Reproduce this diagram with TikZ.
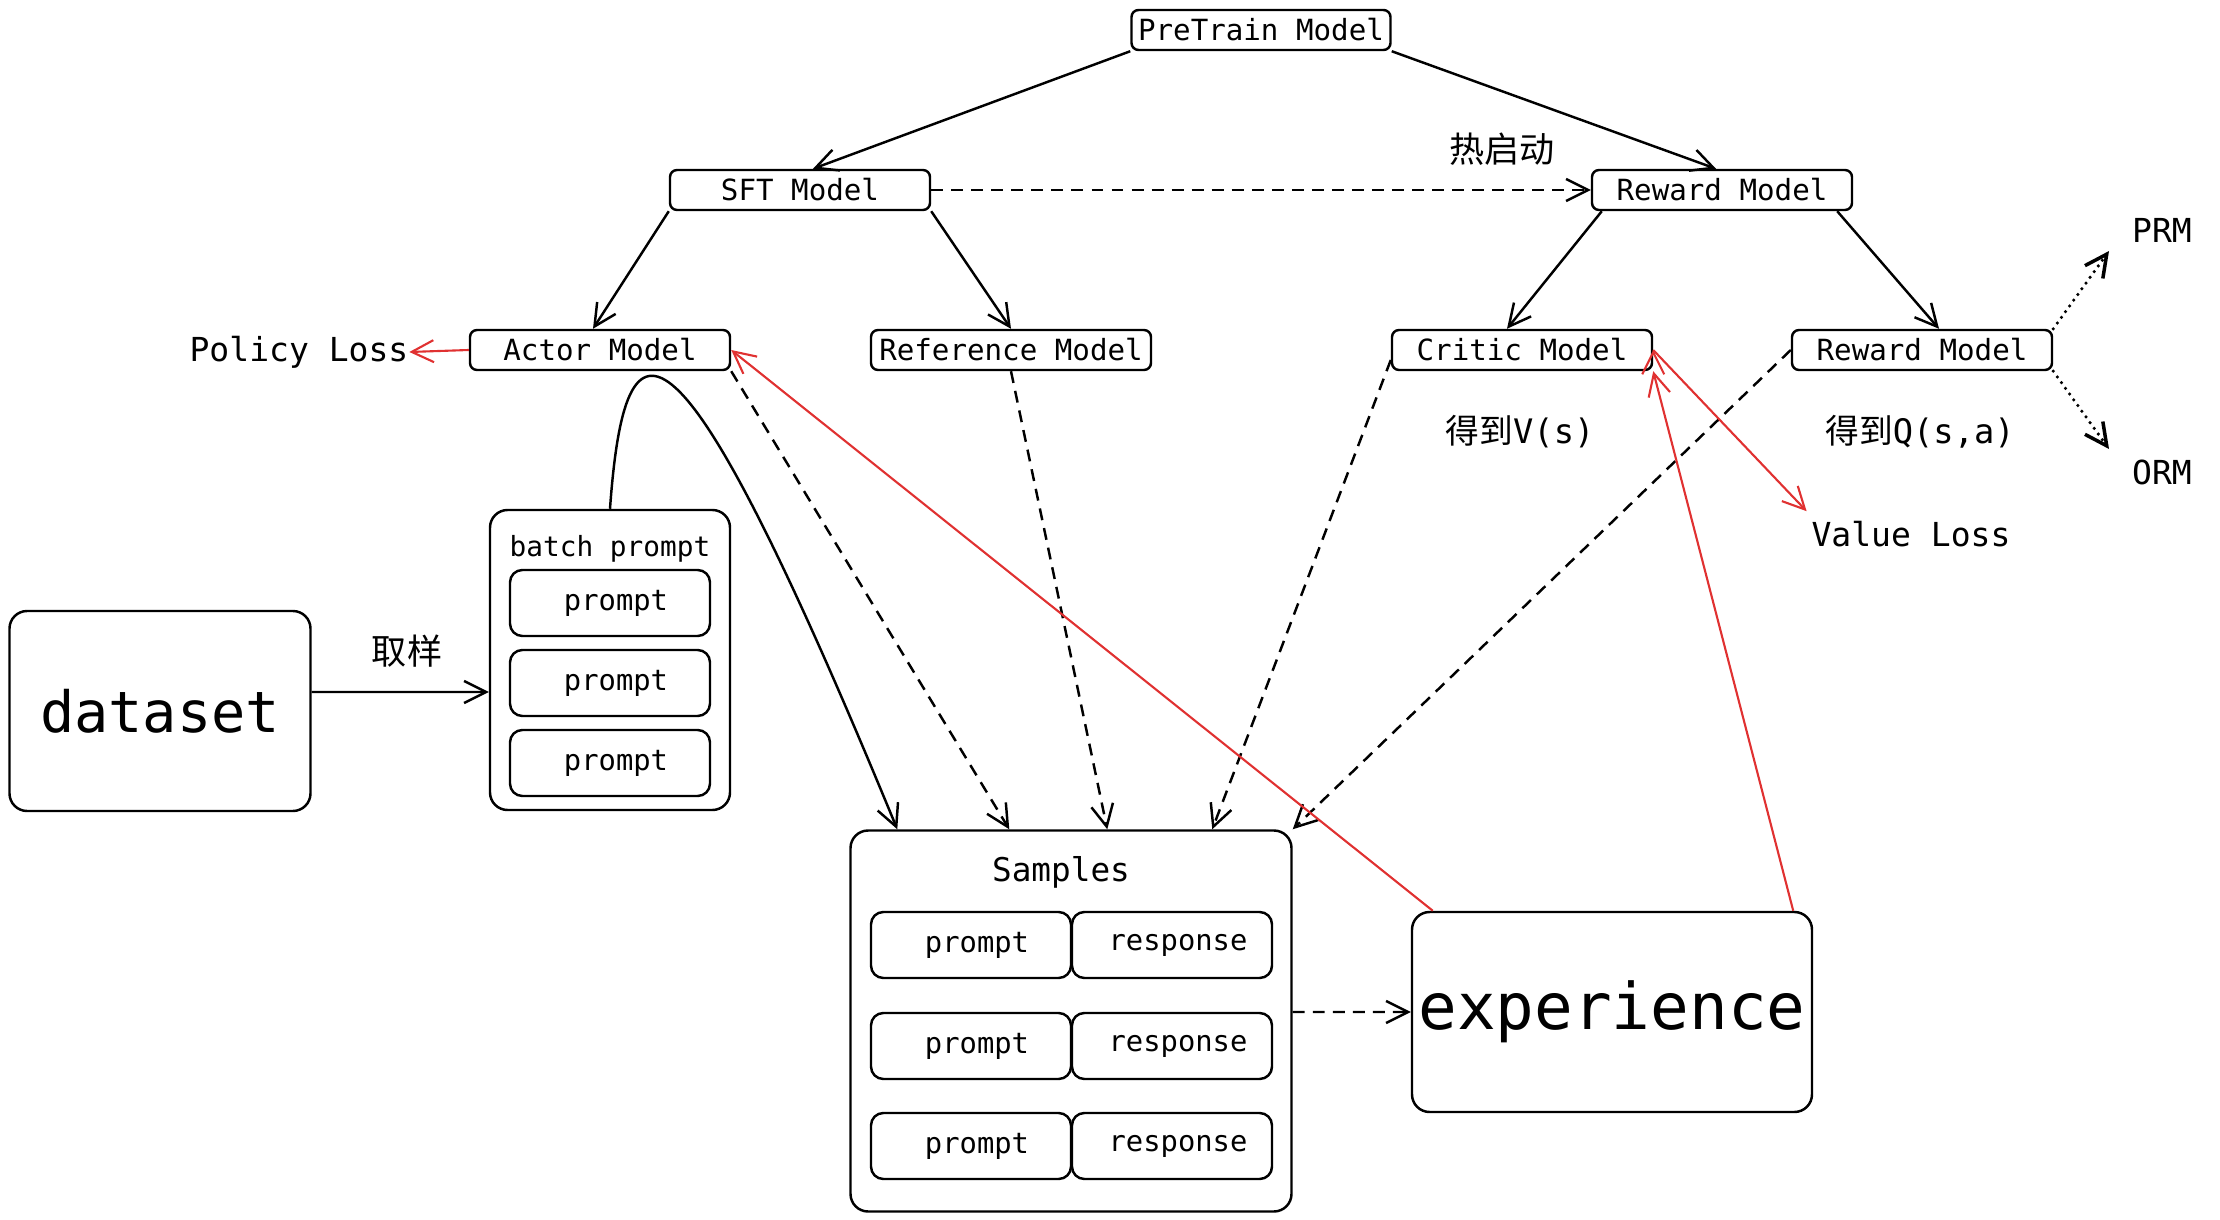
\documentclass[tikz,border=0pt]{standalone}
\usepackage{fontspec}
\setmainfont{DejaVu Sans Mono}
\newfontfamily\cjk{Noto Sans CJK SC}
\usepackage{xcolor}
\usetikzlibrary{arrows.meta}
\definecolor{lossred}{RGB}{224,49,49}
\tikzset{model/.style={draw,rounded corners=2pt,minimum width=26mm,minimum height=4mm,inner sep=0pt,font=\fontsize{8.3}{10}\selectfont}}
\tikzset{bigbox/.style={draw,rounded corners=5pt,inner sep=0pt}}
\tikzset{item/.style={draw,rounded corners=3.5pt,minimum width=20mm,minimum height=6.6mm,inner sep=0pt,font=\fontsize{8.2}{10}\selectfont,execute at begin node=\hspace*{1.2mm}}}
\tikzset{lbl/.style={font=\fontsize{9.4}{11}\selectfont}}
\tikzset{zh/.style={font=\fontsize{10}{12}\selectfont\cjk}}
\tikzset{dsh/.style={dash pattern=on 3.4pt off 2.3pt}}
\tikzset{dots/.style={line cap=round,line width=1pt,dash pattern=on 0pt off 2pt}}

\begin{document}
\begin{tikzpicture}[x=0.1mm,y=-0.1mm,line width=0.7pt,>={Straight Barb[length=2.2mm,width=2.2mm]}]
	\useasboundingbox (0,0) rectangle (2220,1220);
	% models
	\node[model,minimum width=25.9mm] (PT) at (1261,30) {PreTrain Model};
	\node[model] (SFT) at (800,190) {SFT Model};
	\node[model] (RM) at (1722,190) {Reward Model};
	\node[model] (AM) at (600,350) {Actor Model};
	\node[model,minimum width=28mm] (RefM) at (1011,350) {Reference Model};
	\node[model] (CM) at (1522,350) {Critic Model};
	\node[model] (RM2) at (1922,350) {Reward Model};
	%
	\node[lbl] (PL) at (299,352) {Policy Loss};
	\node[zh] (hot) at (1502,149) {热启动};
	\node[font=\fontsize{9.6}{11}\selectfont] (VS) at (1520,432) {{\cjk 得到}V(s)};
	\node[font=\fontsize{9.6}{11}\selectfont] (QS) at (1920,432) {{\cjk 得到}Q(s,a)};
	\node[lbl] (VL) at (1911,534) {Value Loss};
	\node[lbl] (PRM) at (2162,230) {PRM};
	\node[lbl] (ORM) at (2162,472) {ORM};
	\coordinate (prmEnd) at (2109,251);
	\coordinate (ormEnd) at (2109,449);
	% data
	\node[bigbox,minimum width=30.1mm,minimum height=20mm,font=\fontsize{16.2}{18}\selectfont] (DS) at (160,711) {dataset};
	\node[zh] (take) at (407,651) {取样};
	\node[bigbox,minimum width=24mm,minimum height=30mm] (BP) at (610,660) {};
	\node[font=\fontsize{7.9}{10}\selectfont] (BPL) at (610,549) {batch prompt};
	\foreach \y [count=\i] in {603,683,763}
		\node[item] (bp\i) at (610,\y) {prompt};
	\node[bigbox,minimum width=44.1mm,minimum height=38.1mm] (SMP) at (1071,1021) {};
	\node[font=\fontsize{9.3}{11}\selectfont] (SL) at (1061,872) {Samples};
	\foreach \y [count=\i] in {945,1046,1146} {
		\node[item] (p\i) at (971,\y) {prompt};
		\node[item] (r\i) at (1172,\y) {response};
	}
	\node[bigbox,minimum width=40mm,minimum height=20mm,font=\fontsize{18.3}{20}\selectfont] (EXP) at (1612,1012) {experience};
	%
	\path[->]
	(PT.south west) edge ([xshift=1.3mm]SFT.north)
	(PT.south east) edge ([xshift=-0.6mm]RM.north)
	(SFT.south west) edge ([xshift=-0.7mm]AM.north)
	(SFT.south east) edge (RefM.north)
	([xshift=1.1mm]RM.south west) edge ([xshift=-1.5mm]CM.north)
	([xshift=-1.6mm]RM.south east) edge ([xshift=1.7mm]RM2.north)
	([yshift=1.9mm]DS.east) edge ([yshift=-3.2mm]BP.west);
	\draw[->] (BP.north) .. controls (625,300) and (675,290) .. ([xshift=4.8mm]SMP.north west);
	%
	\path[->,dsh]
	(SFT.east) edge (RM.west)
	(AM.south east) edge ([xshift=16mm]SMP.north west)
	(RefM.south) edge ([xshift=25.8mm]SMP.north west)
	([yshift=-1mm]CM.west) edge ([xshift=36.3mm]SMP.north west)
	(RM2.west) edge (SMP.north east)
	([yshift=0.9mm]SMP.east) edge (EXP.west);
	%
	\path[->,draw=lossred,color=lossred,line width=0.6pt]
	(AM.west) edge ([xshift=-1.2mm]PL.east)
	([xshift=2.2mm]EXP.north west) edge (AM.east)
	([xshift=-2mm]EXP.north east) edge (CM.south east)
	(CM.east) edge ([xshift=0.8mm,yshift=-0.3mm]VL.north west);
	%
	\path[->,dots]
	(RM2.north east) edge (prmEnd)
	(RM2.south east) edge (ormEnd);
\end{tikzpicture}
\end{document}
